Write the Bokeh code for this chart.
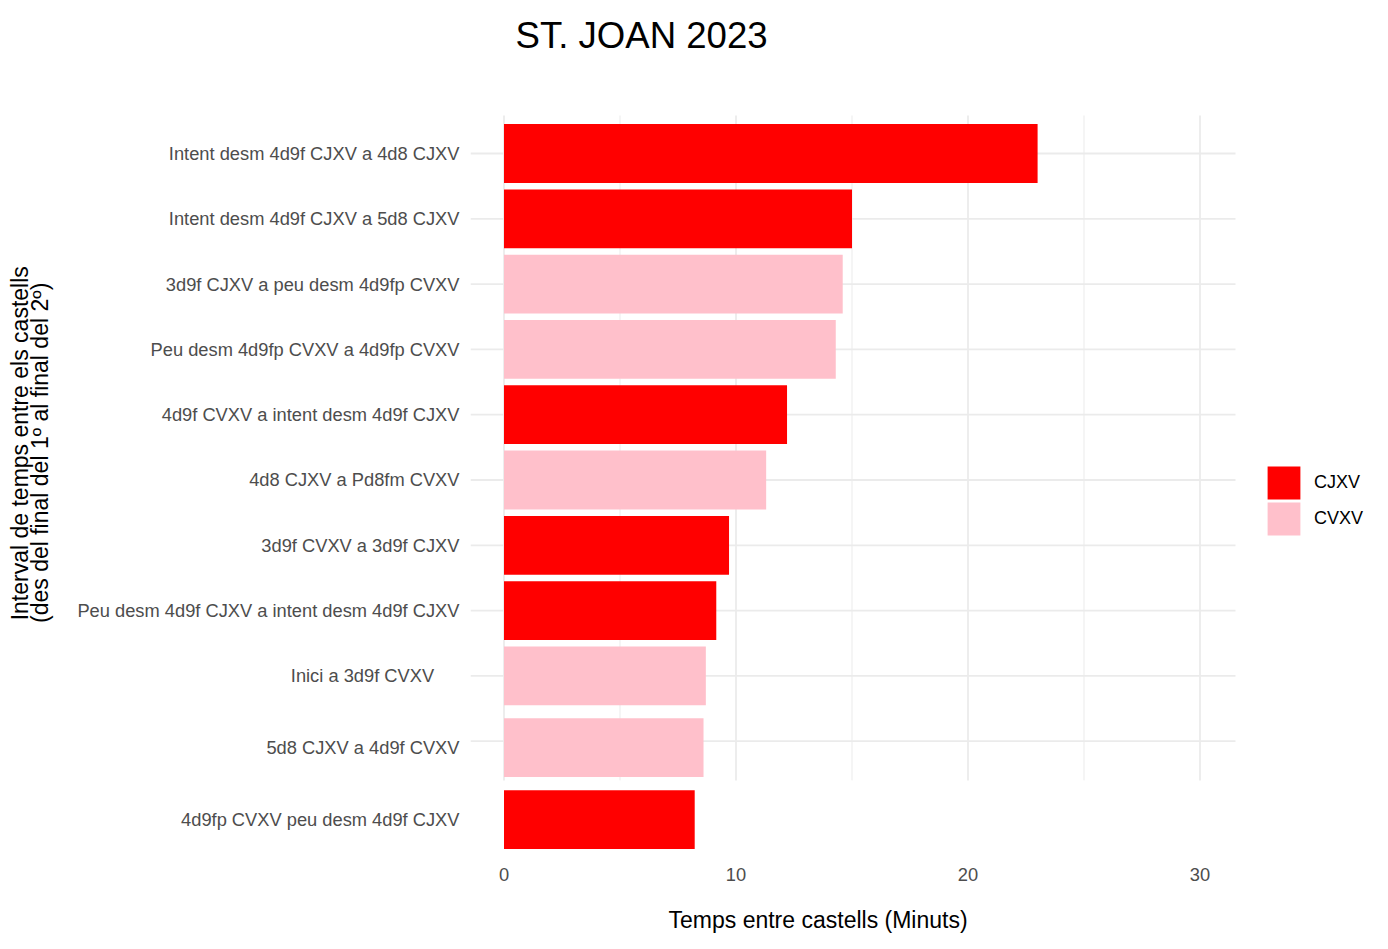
from bokeh.plotting import figure
from bokeh.models import (ColumnDataSource, Range1d, FixedTicker, Title, Legend, LegendItem, Label)
from bokeh.embed import file_html
from bokeh.resources import INLINE

# ---- data (top to bottom) ----
categories = [
    "Intent desm 4d9f CJXV a 4d8 CJXV",
    "Intent desm 4d9f CJXV a 5d8 CJXV",
    "3d9f CJXV a peu desm 4d9fp CVXV",
    "Peu desm 4d9fp CVXV a 4d9fp CVXV",
    "4d9f CVXV a intent desm 4d9f CJXV",
    "4d8 CJXV a Pd8fm CVXV",
    "3d9f CVXV a 3d9f CJXV",
    "Peu desm 4d9f CJXV a intent desm 4d9f CJXV",
    "Inici a 3d9f CVXV\u00a0\u00a0\u00a0\u00a0\u00a0",
    "5d8 CJXV a 4d9f CVXV",
    "4d9fp CVXV peu desm 4d9f CJXV",
]
minutes = [23.0, 15.0, 14.6, 14.3, 12.2, 11.3, 9.7, 9.15, 8.7, 8.6, 8.22]
colla = ["CJXV", "CJXV", "CVXV", "CVXV", "CJXV", "CVXV", "CJXV", "CJXV", "CVXV", "CVXV", "CJXV"]
groups = ["CJXV", "CVXV"]
# row positions as drawn in the original (slightly irregular at the bottom)
rows = [0, 1, 2, 3, 4, 5, 6, 7, 8, 9.1, 10.2]
grid_rows = [0, 1, 2, 3, 4, 5, 6, 7, 8, 9]
x_major = [0, 10, 20, 30]
x_minor = [5, 15, 25]

colors = {"CJXV": "#FF0000", "CVXV": "#FFC0CB"}
FONT = "Liberation Sans"
GRID = "#EBEBEB"
NB = "\u00a0"

# panel extent (data units)
x_lo, x_hi = -1.444, 31.53
y_top, y_bot = -0.582, 9.6

p = figure(frame_width=918, frame_height=860, output_backend="svg", toolbar_location=None,
           x_range=Range1d(-1.444, 38.125), y_range=Range1d(10.827, -2.343),
           min_border_left=470, min_border_right=0, min_border_top=0,
           min_border_bottom=89)
p.outline_line_color = None
p.background_fill_color = "white"
p.xgrid.visible = False
p.ygrid.visible = False

# grid lines of the panel
p.segment(x0=[x_lo]*len(grid_rows), x1=[x_hi]*len(grid_rows), y0=grid_rows, y1=grid_rows,
          line_color=GRID, line_width=1.8)
p.segment(x0=x_minor, x1=x_minor, y0=[y_top]*len(x_minor), y1=[y_bot]*len(x_minor),
          line_color=GRID, line_width=1.0)
p.segment(x0=x_major, x1=x_major, y0=[y_top]*len(x_major), y1=[y_bot]*len(x_major),
          line_color=GRID, line_width=1.8)

src = ColumnDataSource(dict(y=rows, right=minutes, colla=colla,
                            color=[colors[c] for c in colla]))
bars = p.hbar(y="y", left=0, right="right", height=0.9, fill_color="color",
              line_color=None, source=src)

# legend: one single-item legend per group (keeps the tight ggplot key spacing)
first_index = {g: colla.index(g) for g in groups}
legend_pos = {"CJXV": (793, 357), "CVXV": (793, 321)}
for g in groups:
    lg = Legend(items=[LegendItem(label=g, renderers=[bars], index=first_index[g])],
                location=legend_pos[g], orientation="vertical")
    lg.border_line_color = None
    lg.background_fill_alpha = 0
    lg.glyph_width = 41
    lg.glyph_height = 41
    lg.label_height = 41
    lg.label_standoff = 10
    lg.padding = 10
    lg.margin = 0
    lg.label_text_font = FONT
    lg.label_text_font_size = "18px"
    lg.label_text_color = "black"
    p.add_layout(lg, "center")

# axes
p.yaxis.ticker = FixedTicker(ticks=rows)
p.yaxis.major_label_overrides = {r: c for r, c in zip(rows, categories)}
p.xaxis.ticker = FixedTicker(ticks=x_major)
for ax in (p.xaxis[0], p.yaxis[0]):
    ax.axis_line_color = None
    ax.major_tick_line_color = None
    ax.minor_tick_line_color = None
    ax.major_tick_out = 0
    ax.major_tick_in = 0
    ax.major_label_text_font = FONT
    ax.major_label_text_font_size = "18.3px"
    ax.major_label_text_color = "#4D4D4D"
p.yaxis.major_label_standoff = 11
p.xaxis.major_label_standoff = 7

p.yaxis.axis_label = ("Interval de temps entre els castells" + NB * 4 + "\n"
                      "(des del final del 1\u00ba al final del 2\u00ba)" + NB * 7)
p.yaxis.axis_label_text_font = FONT
p.yaxis.axis_label_text_font_size = "23px"
p.yaxis.axis_label_text_font_style = "normal"
p.yaxis.axis_label_text_color = "black"
p.yaxis.axis_label_text_line_height = 0.8
p.yaxis.axis_label_standoff = 21

xlabel = Title(text="Temps entre castells (Minuts)", align="left", offset=198,
               text_font=FONT, text_font_size="23px", text_font_style="normal",
               text_color="black", standoff=42)
p.add_layout(xlabel, "below")

title = Label(text="ST. JOAN 2023", x=45, y=825, x_units="screen", y_units="screen",
              text_font=FONT, text_font_size="36.6px", text_color="black",
              text_baseline="alphabetic", text_align="left")
p.add_layout(title)

open("out.html", "w").write(file_html(p, INLINE))
